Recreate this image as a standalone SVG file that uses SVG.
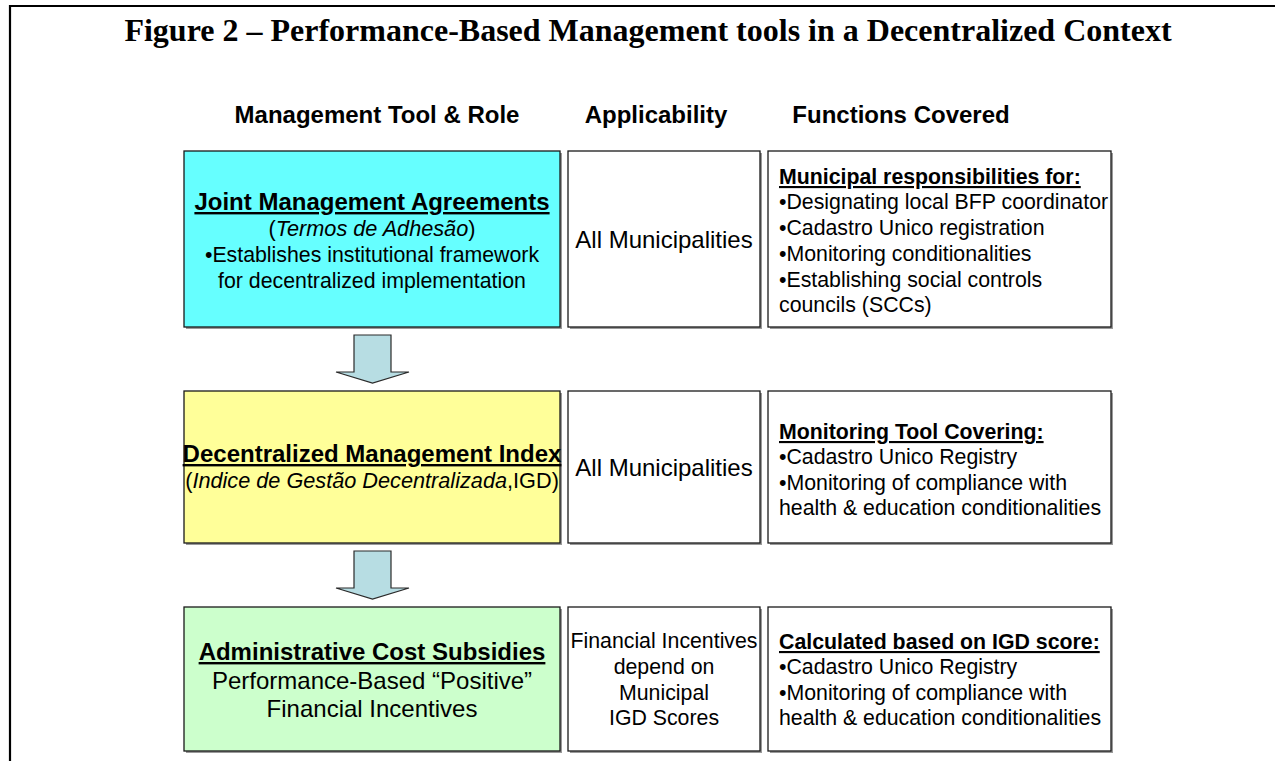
<svg xmlns="http://www.w3.org/2000/svg" width="1275" height="761" viewBox="0 0 1275 761">
<defs>
<style>
.t{font-family:"Liberation Sans",Arial,sans-serif;font-size:21.3px;fill:#000}
.b{font-weight:bold}
.u{text-decoration:underline}
.c{text-anchor:middle}
.h{font-size:24px}
.m{font-size:21.7px}
.box{stroke:#1a1a1a;stroke-width:1.3}
.sh{fill:#9a9a9a}
.arr{fill:#B7DDE3;stroke:#2a2a2a;stroke-width:1.2}
</style>
</defs>
<rect width="1275" height="761" fill="#fff"/>
<g id="frame">
<line x1="10" y1="6" x2="1275" y2="6" stroke="#000" stroke-width="2.2"/>
<line x1="10" y1="5" x2="10" y2="761" stroke="#000" stroke-width="2.2"/>
</g>
<text x="648" y="41" text-anchor="middle" font-family="'Liberation Serif','Times New Roman',serif" font-weight="bold" font-size="32">Figure 2 – Performance-Based Management tools in a Decentralized Context</text>
<g id="headers">
<text class="t b c h" x="377" y="123">Management Tool &amp; Role</text>
<text class="t b c h" x="656" y="123">Applicability</text>
<text class="t b c h" x="901" y="123">Functions Covered</text>
</g>
<g id="connectors">
<path class="arr" d="M354,335 H391 V372 H409 L372.5,383 L336,372 H354 Z"/>
<path class="arr" d="M354,551 H391 V588 H409 L372.5,599 L336,588 H354 Z"/>
</g>
<g id="jma">
<rect class="sh" x="186" y="153" width="376" height="176"/>
<rect class="box" x="184" y="151" width="376" height="176" fill="#66FFFF"/>
<text class="t b u c h" x="372" y="210">Joint Management Agreements</text>
<text class="t c m" x="372" y="236">(<tspan font-style="italic">Termos de Adhesão</tspan>)</text>
<text class="t c" x="372" y="262">•Establishes institutional framework</text>
<text class="t c" x="372" y="288">for decentralized implementation</text>
</g>
<g id="jma-app">
<rect class="sh" x="570" y="153" width="192" height="176"/>
<rect class="box" x="568" y="151" width="192" height="176" fill="#fff"/>
<text class="t c h" x="664" y="248">All Municipalities</text>
</g>
<g id="jma-func">
<rect class="sh" x="770" y="153" width="343" height="176"/>
<rect class="box" x="768" y="151" width="343" height="176" fill="#fff"/>
<text class="t b u" x="779" y="184" font-size="22.5">Municipal responsibilities for:</text>
<text class="t" x="779" y="209">•Designating local BFP coordinator</text>
<text class="t" x="779" y="235">•Cadastro Unico registration</text>
<text class="t" x="779" y="261">•Monitoring conditionalities</text>
<text class="t" x="779" y="287">•Establishing social controls</text>
<text class="t" x="779" y="312">councils (SCCs)</text>
</g>
<g id="igd">
<rect class="sh" x="186" y="393" width="376" height="152"/>
<rect class="box" x="184" y="391" width="376" height="152" fill="#FFFF99"/>
<text class="t b u c h" x="372" y="462">Decentralized Management Index</text>
<text class="t c m" x="372" y="488">(<tspan font-style="italic">Indice de Gestão Decentralizada</tspan>,IGD)</text>
</g>
<g id="igd-app">
<rect class="sh" x="570" y="393" width="192" height="152"/>
<rect class="box" x="568" y="391" width="192" height="152" fill="#fff"/>
<text class="t c h" x="664" y="476">All Municipalities</text>
</g>
<g id="igd-func">
<rect class="sh" x="770" y="393" width="343" height="152"/>
<rect class="box" x="768" y="391" width="343" height="152" fill="#fff"/>
<text class="t b u" x="779" y="439" font-size="21.5">Monitoring Tool Covering:</text>
<text class="t" x="779" y="464">•Cadastro Unico Registry</text>
<text class="t" x="779" y="490">•Monitoring of compliance with</text>
<text class="t" x="779" y="515">health &amp; education conditionalities</text>
</g>
<g id="acs">
<rect class="sh" x="186" y="609" width="376" height="144"/>
<rect class="box" x="184" y="607" width="376" height="144" fill="#CCFFCC"/>
<text class="t b u c h" x="372" y="660">Administrative Cost Subsidies</text>
<text class="t c h" x="372" y="689">Performance-Based “Positive”</text>
<text class="t c h" x="372" y="717">Financial Incentives</text>
</g>
<g id="acs-app">
<rect class="sh" x="570" y="609" width="192" height="144"/>
<rect class="box" x="568" y="607" width="192" height="144" fill="#fff"/>
<text class="t c" x="664" y="648" font-size="20.3">Financial Incentives</text>
<text class="t c" x="664" y="674" font-size="20.3">depend on</text>
<text class="t c" x="664" y="700" font-size="20.3">Municipal</text>
<text class="t c" x="664" y="725" font-size="20.3">IGD Scores</text>
</g>
<g id="acs-func">
<rect class="sh" x="770" y="609" width="343" height="144"/>
<rect class="box" x="768" y="607" width="343" height="144" fill="#fff"/>
<text class="t b u" x="779" y="649">Calculated based on IGD score:</text>
<text class="t" x="779" y="674">•Cadastro Unico Registry</text>
<text class="t" x="779" y="700">•Monitoring of compliance with</text>
<text class="t" x="779" y="725">health &amp; education conditionalities</text>
</g>
</svg>
